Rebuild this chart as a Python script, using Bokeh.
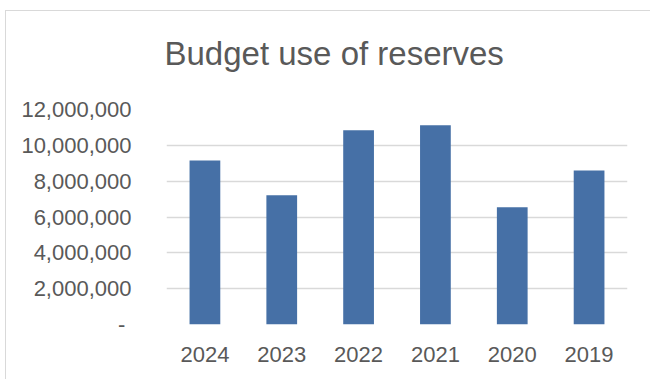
from bokeh.plotting import figure
from bokeh.models import ColumnDataSource, FixedTicker, Range1d, Title
from bokeh.embed import file_html
from bokeh.resources import INLINE

title_text = "Budget use of reserves"
years = ["2024", "2023", "2022", "2021", "2020", "2019"]
reserves_used = [9160000, 7210000, 10840000, 11120000, 6540000, 8600000]
y_ticks = [0, 2000000, 4000000, 6000000, 8000000, 10000000, 12000000]
y_tick_labels = ["-\u00a0", "2,000,000", "4,000,000", "6,000,000", "8,000,000", "10,000,000", "12,000,000"]

src = ColumnDataSource(data=dict(year=years, value=reserves_used))

FONT = "Liberation Sans"
TXT = "#595959"
GRID = "#d9d9d9"

p = figure(x_range=years, y_range=Range1d(0, 12000000),
           width=645, height=369, output_backend="svg", toolbar_location=None,
           min_border_left=160, min_border_right=24, min_border_top=98, min_border_bottom=56)
p.styles = {"margin-left": "5px", "margin-top": "10px",
            "border-left": "1px solid #d9d9d9", "border-top": "1px solid #d9d9d9"}

p.vbar(x="year", top="value", width=0.40, source=src, color="#4670A6", line_color=None)

# invisible spacer between frame and title
p.add_layout(Title(text="\u00a0", text_font_size="10px", standoff=25), "above")

p.title.text = title_text
p.title.text_font = FONT
p.title.text_font_size = "33px"
p.title.text_font_style = "normal"
p.title.text_color = TXT
p.title.align = "left"
p.title.offset = -2
p.title.standoff = 0

p.outline_line_color = None
p.xgrid.grid_line_color = None
p.ygrid.grid_line_color = GRID
p.ygrid.grid_line_width = 1.5

p.yaxis.ticker = FixedTicker(ticks=y_ticks)
p.yaxis.major_label_overrides = {t: l for t, l in zip(y_ticks, y_tick_labels)}

for ax in (p.xaxis[0], p.yaxis[0]):
    ax.axis_line_color = None
    ax.major_tick_line_color = None
    ax.minor_tick_line_color = None
    ax.major_label_text_font = FONT
    ax.major_label_text_font_size = "22px"
    ax.major_label_text_color = TXT
p.yaxis.major_label_standoff = 29
p.xaxis.major_label_standoff = 16

open("out.html", "w").write(file_html(p, INLINE))
